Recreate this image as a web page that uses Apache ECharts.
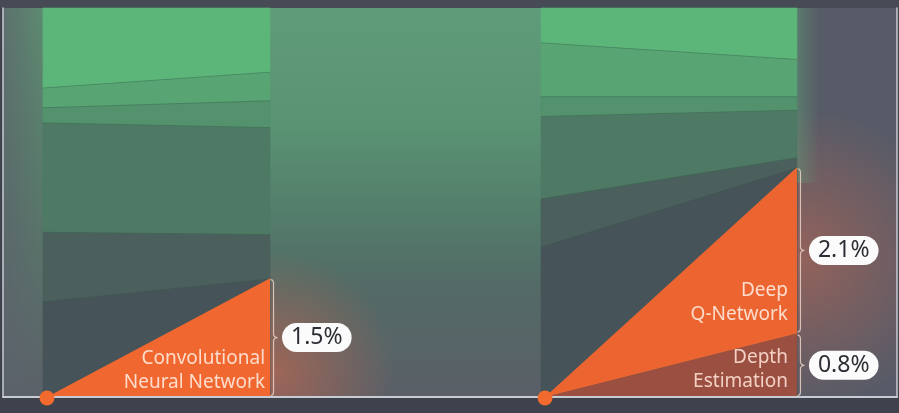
<!DOCTYPE html>
<html><head><meta charset="utf-8">
<script src="https://cdn.jsdelivr.net/npm/echarts@6/dist/echarts.min.js"></script>
<style>
html,body{margin:0;padding:0;}
body{background:linear-gradient(#474b55 0px,#474b55 8px,#3e424c 8px,#3e424c 100%);}
#c{width:899px;height:413px;}
</style>
</head><body><div id="c"></div>
<script>
// ---------------- data ----------------
const columns = ['Convolutional Neural Network', 'Deep Q-Network'];
// stacked layer boundaries (share, %), bottom to top, at each column's left / right edge
const cnnLayerLeft  = [1.20, 2.08, 3.46, 3.65, 3.90];
const cnnLayerRight = [1.49, 2.05, 3.40, 3.74, 4.10];
const dqnLayerLeft  = [1.89, 2.50, 3.54, 3.79, 4.47];
const dqnLayerRight = [2.89, 3.02, 3.62, 3.79, 4.26];
// highlighted methods (stacked from the bottom inside their column)
const highlightNames  = ['Convolutional\nNeural Network', 'Depth\nEstimation', 'Deep\nQ-Network'];
const highlightValues = [1.5, 0.8, 2.1];
const highlightColumn = [0, 1, 1];
const highlightLabels = ['1.5%', '0.8%', '2.1%'];
const yMax = 4.91;

// ---------------- layout / style ----------------
const X_MAX = 100;
const colSpan = [[4.47, 29.87], [60.18, 88.81]];
const apexOffset = 0.45;
const layerLeft = [cnnLayerLeft, dqnLayerLeft];
const layerRight = [cnnLayerRight, dqnLayerRight];
const layerColors = ['#465459', '#4b605d', '#4e7a65', '#53926d', '#58a473', '#5cb679'];
const highlightColors = ['#f0672f', '#9a4f40', '#ec6531'];
const highlightTextColors = ['#fddccc', '#f3d0c4', '#fddccc'];
const textLift = [2, 3, 7];
const textInset = [5, 9, 9];
const FONT = '"Noto Sans", "Open Sans", sans-serif';

const chart = echarts.init(document.getElementById('c'));

function baseOf(i) {
  let b = 0;
  for (let j = 0; j < i; j++) if (highlightColumn[j] === highlightColumn[i]) b += highlightValues[j];
  return b;
}

function renderBackdrop(params, api) {
  const top = api.coord([0, yMax])[1], bot = api.coord([0, 0])[1];
  const gx0 = api.coord([0, 0])[0], gx1 = api.coord([X_MAX, 0])[0];
  const c1l = api.coord([colSpan[0][0], 0])[0], c1r = api.coord([colSpan[0][1], 0])[0];
  const c2l = api.coord([colSpan[1][0], 0])[0], c2r = api.coord([colSpan[1][1], 0])[0];
  const h = bot - top;
  const vGreen = new echarts.graphic.LinearGradient(0, 0, 0, 1, [
    { offset: 0, color: '#5f9b79' }, { offset: 0.3, color: '#5a9374' },
    { offset: 0.52, color: '#537e6b' }, { offset: 0.72, color: '#536a66' },
    { offset: 1, color: '#5a5f67' }]);
  const vLeft = new echarts.graphic.LinearGradient(0, 0, 0, 1, [
    { offset: 0, color: '#5d8b71' }, { offset: 0.45, color: '#587a6a' },
    { offset: 1, color: '#5b6168' }]);
  const cnnTop = api.coord([colSpan[0][1], highlightValues[0]]);
  const dqnTop = api.coord([colSpan[1][1], baseOf(2) + highlightValues[2] * 0.45]);
  return { type: 'group', children: [
    { type: 'rect', shape: { x: gx0, y: top, width: c1l - gx0, height: h }, style: { fill: vLeft } },
    { type: 'rect', shape: { x: gx0, y: top, width: c1l - gx0, height: h }, style: {
      fill: new echarts.graphic.LinearGradient(0, 0, 1, 0, [
        { offset: 0, color: 'rgba(92,98,108,0.65)' }, { offset: 1, color: 'rgba(92,98,108,0)' }]) } },
    { type: 'rect', shape: { x: c1r, y: top, width: c2l - c1r, height: h }, style: { fill: vGreen } },
    { type: 'rect', shape: { x: c1r, y: top, width: c2l - c1r, height: h }, style: {
      fill: new echarts.graphic.RadialGradient(cnnTop[0] + 5, bot - 25, 120, [
        { offset: 0, color: 'rgba(215,105,75,0.55)' }, { offset: 1, color: 'rgba(215,105,75,0)' }], true) } },
    { type: 'rect', shape: { x: c2r, y: top, width: gx1 - c2r, height: h }, style: {
      fill: new echarts.graphic.RadialGradient(dqnTop[0] + 5, dqnTop[1], 150, [
        { offset: 0, color: 'rgba(205,105,80,0.5)' }, { offset: 1, color: 'rgba(205,105,80,0)' }], true) } },
    { type: 'rect', shape: { x: c2r, y: top, width: 22, height: h * 0.45 }, style: {
      fill: new echarts.graphic.LinearGradient(0, 0, 1, 0, [
        { offset: 0, color: 'rgba(95,160,118,0.45)' }, { offset: 1, color: 'rgba(95,160,118,0)' }]) } }
  ]};
}

function renderLayers(params, api) {
  const c = api.value(0);
  const [x0, x1] = colSpan[c];
  const L = [0].concat(layerLeft[c], [yMax]);
  const R = [0].concat(layerRight[c], [yMax]);
  const children = [];
  for (let i = 0; i < L.length - 1; i++) {
    children.push({ type: 'polygon', shape: { points: [
      api.coord([x0, L[i]]), api.coord([x1, R[i]]), api.coord([x1, R[i + 1]]), api.coord([x0, L[i + 1]])] },
      style: { fill: layerColors[i], stroke: layerColors[i], lineWidth: 0.6 } });
  }
  for (let i = 1; i < L.length - 1; i++) {
    const a = api.coord([x0, L[i]]), b = api.coord([x1, R[i]]);
    children.push({ type: 'line', shape: { x1: a[0], y1: a[1], x2: b[0], y2: b[1] },
      style: { stroke: 'rgba(45,75,62,0.35)', lineWidth: 1 } });
  }
  return { type: 'group', children };
}

function renderHighlight(params, api) {
  const i = api.value(0);
  const c = highlightColumn[i];
  const [x0, x1] = colSpan[c];
  const b = baseOf(i), t = b + highlightValues[i];
  const apex = api.coord([x0 + apexOffset, 0]);
  const pb = api.coord([x1, b]), pt = api.coord([x1, t]);
  return { type: 'polygon', shape: { points: [apex, pb, pt] },
    style: { fill: highlightColors[i] } };
}

function renderAnnot(params, api) {
  const i = api.value(0);
  const c = highlightColumn[i];
  const x1 = colSpan[c][1];
  const b = baseOf(i), t = b + highlightValues[i];
  const pb = api.coord([x1, b]), pt = api.coord([x1, t]);
  const xr = pb[0];
  const yT = pt[1] + 1.5, yB = pb[1] - 1.5, ym = (yT + yB) / 2;
  const bx = xr + 0.5, vx = xr + 3.5, nx = xr + 7.5;
  const path = 'M' + bx + ' ' + yT + ' Q' + vx + ' ' + yT + ' ' + vx + ' ' + (yT + 4) +
    ' L' + vx + ' ' + (ym - 4) + ' Q' + vx + ' ' + ym + ' ' + nx + ' ' + ym +
    ' Q' + vx + ' ' + ym + ' ' + vx + ' ' + (ym + 4) +
    ' L' + vx + ' ' + (yB - 4) + ' Q' + vx + ' ' + yB + ' ' + bx + ' ' + yB;
  return { type: 'group', children: [
    { type: 'path', shape: { pathData: path }, style: { fill: null, stroke: 'rgba(235,210,200,0.85)', lineWidth: 1.2 } },
    { type: 'text', x: xr + 12, y: ym, style: {
      text: highlightLabels[i], fill: '#2b2e34', font: '23px ' + FONT,
      align: 'left', verticalAlign: 'middle',
      backgroundColor: '#fbfbfb', borderRadius: 15, padding: [3, 9, 3, 9] } },
    { type: 'text', x: xr - textInset[i], y: pb[1] - textLift[i], style: {
      text: highlightNames[i], fill: highlightTextColors[i], font: '19px ' + FONT,
      lineHeight: 24, align: 'right', verticalAlign: 'bottom' } }
  ]};
}

function renderDot(params, api) {
  const c = api.value(0);
  const p = api.coord([colSpan[c][0] + apexOffset, 0]);
  return { type: 'circle', shape: { cx: p[0], cy: p[1] + 1, r: 7.5 }, style: { fill: '#f26a2e' } };
}

const axisLineStyle = { color: '#c8cbd1', width: 1.5 };

chart.setOption({
  animation: false,
  grid: { left: 3, right: 2, top: 8, bottom: 16, show: true, backgroundColor: '#575b67', borderWidth: 0 },
  xAxis: { type: 'value', min: 0, max: X_MAX, z: 5,
    axisLine: { show: true, onZero: false, lineStyle: { color: '#c8cbd1', width: 2 } },
    axisTick: { show: false }, axisLabel: { show: false }, splitLine: { show: false } },
  yAxis: [
    { type: 'value', min: 0, max: yMax, z: 5, axisLine: { show: true, lineStyle: axisLineStyle },
      axisTick: { show: false }, axisLabel: { show: false }, splitLine: { show: false } },
    { type: 'value', min: 0, max: yMax, position: 'right', z: 5, axisLine: { show: true, lineStyle: axisLineStyle },
      axisTick: { show: false }, axisLabel: { show: false }, splitLine: { show: false } }
  ],
  series: [
    { type: 'custom', name: 'backdrop', z: 1, data: [[0]], renderItem: renderBackdrop, silent: true },
    { type: 'custom', name: 'layers', z: 2, data: columns.map((n, i) => [i]), renderItem: renderLayers },
    { type: 'custom', name: 'highlights', z: 3, data: highlightValues.map((v, i) => [i]), renderItem: renderHighlight },
    { type: 'custom', name: 'annotations', z: 4, data: highlightValues.map((v, i) => [i]), renderItem: renderAnnot },
    { type: 'custom', name: 'start', z: 8, data: columns.map((n, i) => [i]), renderItem: renderDot }
  ]
});
</script>
</body></html>
